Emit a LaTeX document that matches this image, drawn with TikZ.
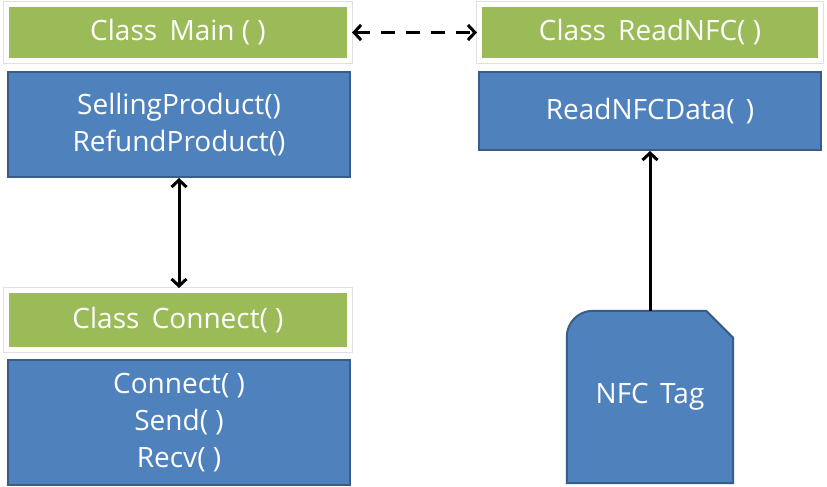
\documentclass[tikz,border=0pt]{standalone}
\usepackage{fontspec}
\setmainfont{Open Sans}
\usetikzlibrary{arrows.meta}
\pgfdeclarelayer{bg}
\pgfsetlayers{bg,main}
\definecolor{headgreen}{HTML}{9BBB59}
\definecolor{bodyblue}{HTML}{4F81BD}
\definecolor{bodyline}{HTML}{385D8A}
\tikzset{
    every node/.style={inner sep=0pt, text=white, align=center, font=\fontsize{28}{37}\selectfont}
}
\tikzset{
    classhead/.style={rectangle, fill=headgreen, draw=white, line width=5pt, preaction={draw=black!12, line width=7pt}, minimum width=343pt, minimum height=56pt},
    classbody/.style={rectangle, fill=bodyblue, draw=bodyline, line width=2pt, minimum width=342pt},
    link/.style={line width=3pt, {Straight Barb[length=7pt,width=15pt]}-{Straight Barb[length=7pt,width=15pt]}}
}

\begin{document}
\begin{tikzpicture}[x=1pt,y=-1pt]
  \useasboundingbox (0,0) rectangle (827,487);

  \node (mainhead) [classhead] at (178,32.5) {Class\hspace{5pt} Main ( )};
  \node (mainbody) [classbody, minimum height=105pt] at (179,124.5) {SellingProduct()\\RefundProduct()};
  \node (readhead) [classhead, minimum width=341pt] at (650,32.5) {Class\hspace{5pt} ReadNFC( )};
  \node (readbody) [classbody, minimum height=78pt] at (650,111) {ReadNFCData(\hspace{4pt} )};
  \node (connhead) [classhead, minimum height=59pt] at (178,320) {Class\hspace{5pt} Connect( )};
  \node (connbody) [classbody, minimum height=125pt] at (179,422.5) {Connect( )\\Send( )\\Recv( )};
  \node (tag) [minimum width=166pt, minimum height=172pt] at (650,397) {NFC\hspace{4pt} Tag};

  \begin{pgfonlayer}{bg}
    \draw [fill=bodyblue, draw=bodyline, line width=2pt] (tag.south west) -- ([yshift=-26pt]tag.north west) arc (180:90:26pt) -- ([xshift=-27pt]tag.north east) -- ([yshift=-27pt]tag.north east) -- (tag.south east) -- cycle;
  \end{pgfonlayer}

  \draw [link, dash pattern=on 14pt off 11pt] (mainhead) -- (readhead);
  \draw [link] (mainbody.south) -- (mainbody.south |- connhead.north);
  \draw [line width=3pt, -{Straight Barb[length=7pt,width=15pt]}] (tag) -- (readbody);
\end{tikzpicture}
\end{document}
